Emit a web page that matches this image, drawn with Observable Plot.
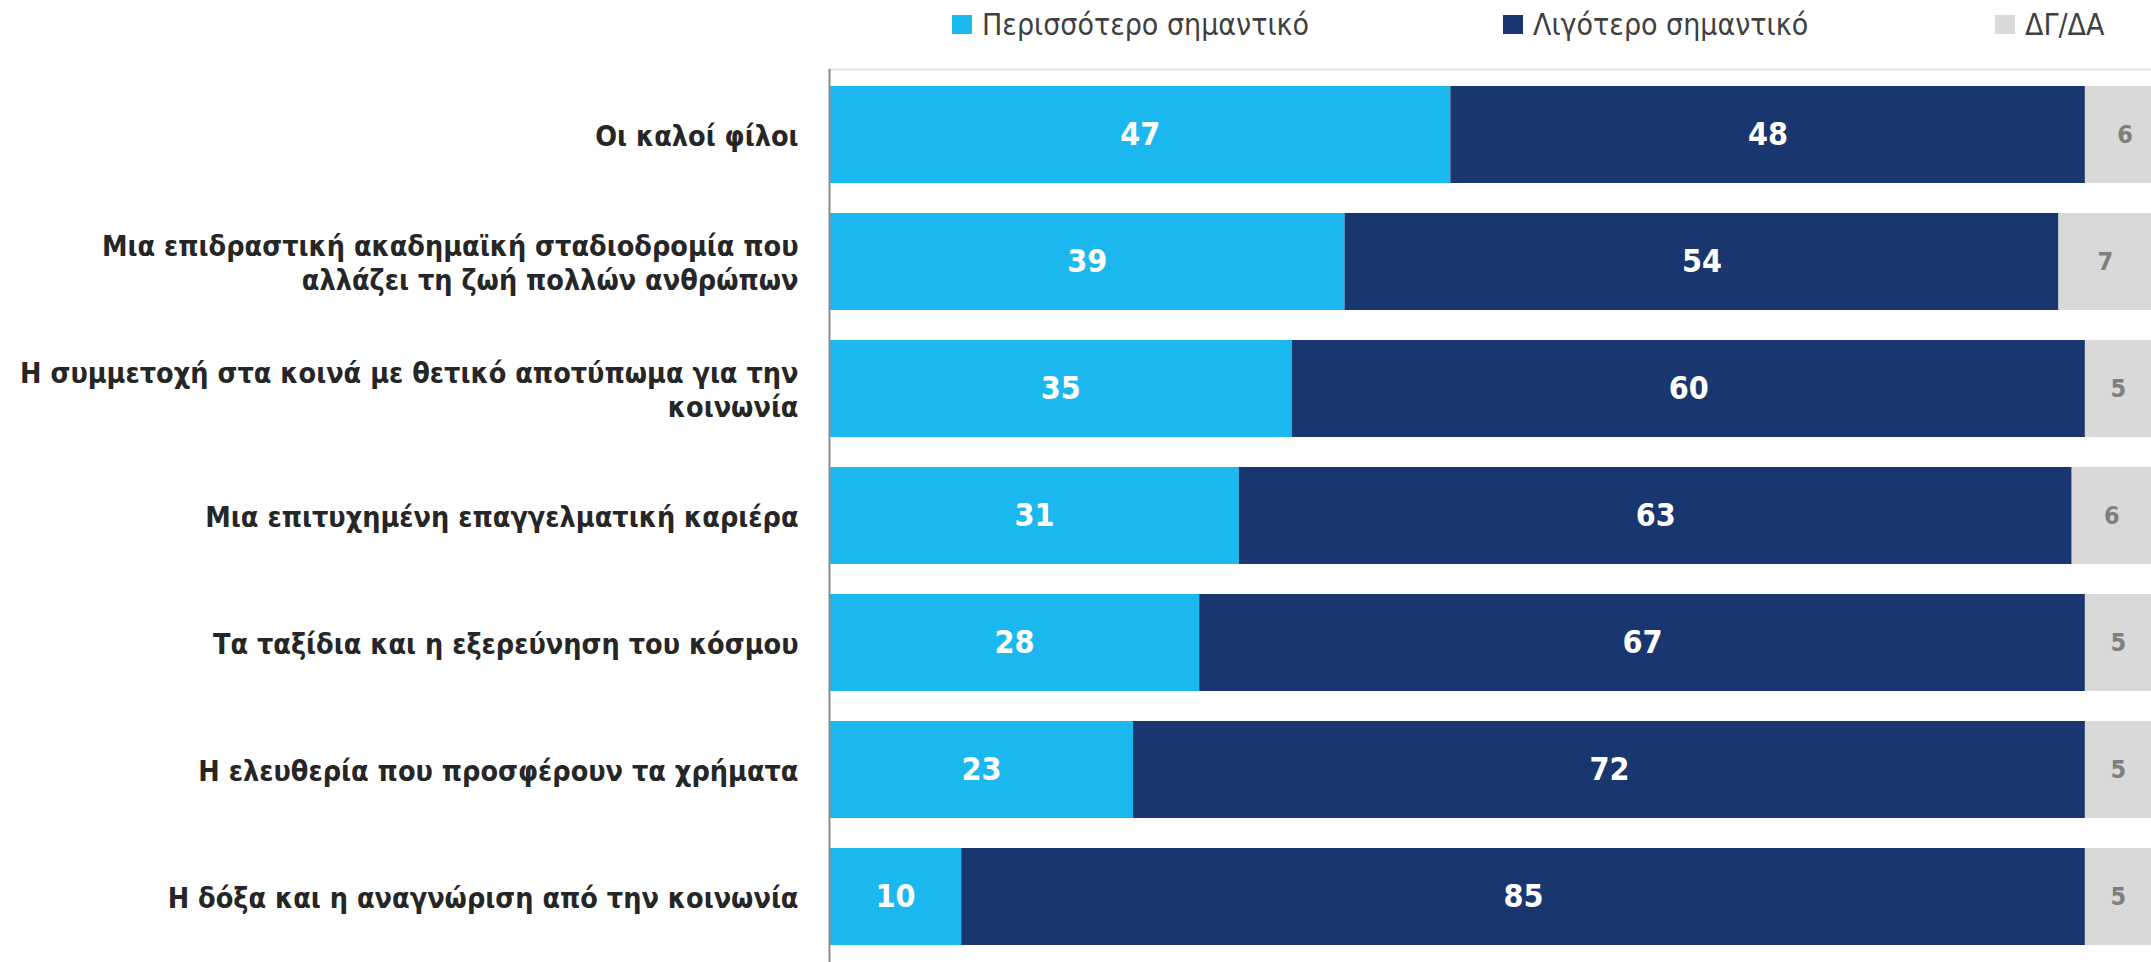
<!DOCTYPE html>
<html>
<head>
<meta charset="utf-8">
<script src="https://cdn.jsdelivr.net/npm/d3@7"></script>
<script src="https://cdn.jsdelivr.net/npm/@observablehq/plot@0.6"></script>
<style>
  html, body { margin: 0; padding: 0; background: #fff; overflow: hidden; }
  #wrap { position: relative; width: 2151px; height: 962px; }
  #legend { position: absolute; top: 0; left: 0; width: 2151px; height: 50px; font-family: "DejaVu Sans Condensed", "DejaVu Sans", sans-serif; font-size: 30px; color: #404040; }
  .item { position: absolute; top: 6px; display: flex; align-items: center; height: 36px; white-space: nowrap; }
  .sw { width: 20px; height: 19px; margin-right: 10px; }
  #chart { position: absolute; top: 50px; left: 0; }
</style>
</head>
<body>
<div id="wrap">
  <div id="legend"></div>
  <div id="chart"></div>
</div>
<script>
const categories = [
  "Οι καλοί φίλοι",
  "Μια επιδραστική ακαδημαϊκή σταδιοδρομία που\nαλλάζει τη ζωή πολλών ανθρώπων",
  "Η συμμετοχή στα κοινά με θετικό αποτύπωμα για την\nκοινωνία",
  "Μια επιτυχημένη επαγγελματική καριέρα",
  "Τα ταξίδια και η εξερεύνηση του κόσμου",
  "Η ελευθερία που προσφέρουν τα χρήματα",
  "Η δόξα και η αναγνώριση από την κοινωνία"
];
const seriesNames = ["Περισσότερο σημαντικό", "Λιγότερο σημαντικό", "ΔΓ/ΔΑ"];
const moreImportant = [47, 39, 35, 31, 28, 23, 10];
const lessImportant = [48, 54, 60, 63, 67, 72, 85];
const dkna = [6, 7, 5, 6, 5, 5, 5];
const colors = ["#1BB8F0", "#1A366E", "#D9D9D9"];

const table = [];
categories.forEach((c, i) => {
  [moreImportant[i], lessImportant[i], dkna[i]].forEach((v, k) => {
    table.push({cat: c, series: seriesNames[k], k, value: v});
  });
});

// legend
const legendX = [952, 1503, 1995];
const legend = document.getElementById("legend");
seriesNames.forEach((s, k) => {
  const it = document.createElement("div");
  it.className = "item";
  it.style.left = legendX[k] + "px";
  const sw = document.createElement("div");
  sw.className = "sw";
  sw.style.background = colors[k];
  const tx = document.createElement("span");
  tx.textContent = s;
  it.appendChild(sw); it.appendChild(tx);
  legend.appendChild(it);
});

const font = "'DejaVu Sans Condensed', 'DejaVu Sans', sans-serif";
const stackOpts = {x: "value", y: "cat", order: null, offset: null};
const chart = Plot.plot({
  width: 2151,
  height: 912,
  marginLeft: 829,
  marginRight: 0,
  marginTop: 19,
  marginBottom: 0,
  style: {fontFamily: font, background: "#fff", overflow: "hidden"},
  x: {domain: [0, 100], axis: null},
  y: {domain: categories, paddingInner: 0.24, paddingOuter: 0.12, label: null},
  color: {domain: seriesNames, range: colors},
  marks: [
    Plot.frame({anchor: "top", stroke: "#EBEBEB", strokeWidth: 3}),
    Plot.barX(table, Plot.stackX({...stackOpts, fill: "series", clip: true})),
    Plot.text(table, Plot.stackX({...stackOpts, text: d => d.k < 2 ? String(d.value) : "", fill: "#FFFFFF", fontSize: 32, fontWeight: "bold"})),
    Plot.text(table, Plot.stackX({...stackOpts, text: d => d.k === 2 ? String(d.value) : "", fill: "#7F7F7F", fontSize: 25, fontWeight: "bold", clip: true})),
    Plot.axisY({tickSize: 0, tickPadding: 31, fontSize: 28.5, fontWeight: "bold", fill: "#262626", lineHeight: 1.19, lineWidth: 100}),
    Plot.ruleX([0], {stroke: "#8C8C8C", strokeWidth: 2})
  ]
});
document.getElementById("chart").appendChild(chart);
</script>
</body>
</html>
